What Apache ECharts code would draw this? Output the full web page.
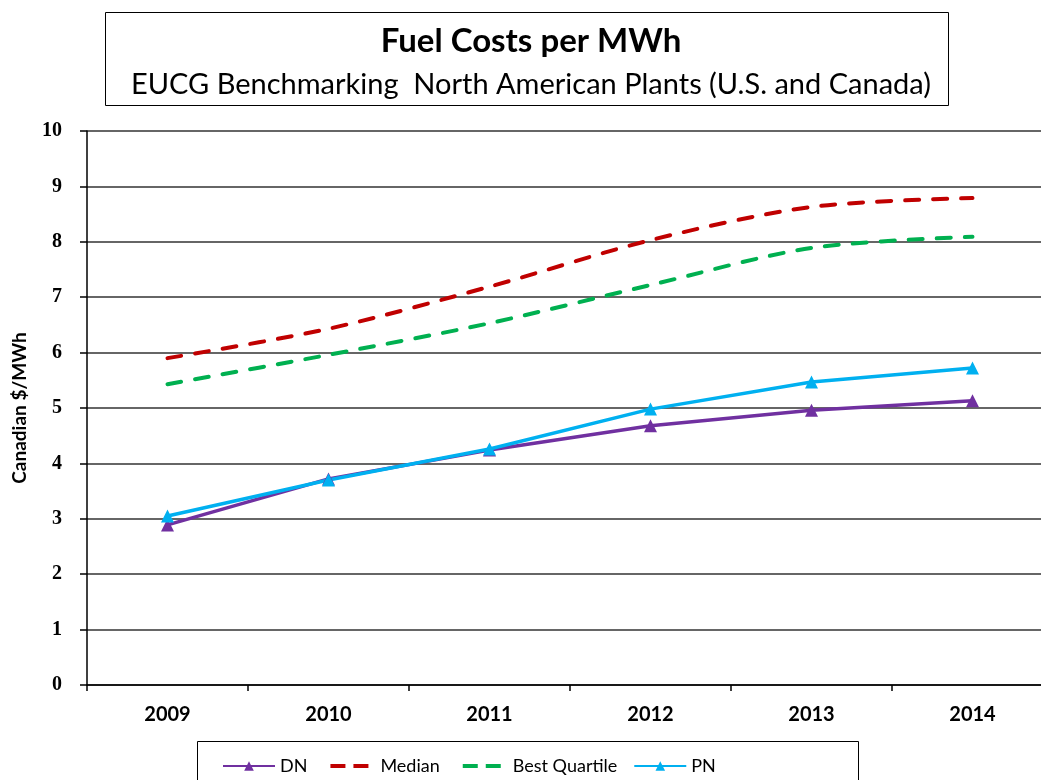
<!DOCTYPE html>
<html>
<head>
<meta charset="utf-8">
<title>Fuel Costs per MWh</title>
<script src="https://cdn.jsdelivr.net/npm/echarts@6/dist/echarts.min.js"></script>
<style>
  html, body { margin: 0; padding: 0; background: #fff; }
  #main { width: 1041px; height: 780px; }
</style>
</head>
<body>
<div id="main"></div>
<script>
// data
var years = ['2009', '2010', '2011', '2012', '2013', '2014'];
var dn = [2.89, 3.72, 4.24, 4.68, 4.96, 5.13];
var median = [5.9, 6.43, 7.19, 8.03, 8.63, 8.79];
var bestQuartile = [5.43, 5.96, 6.53, 7.22, 7.89, 8.09];
var pn = [3.05, 3.70, 4.26, 4.98, 5.47, 5.72];

// two short dashes for the legend of the dashed series
// (the two tiny corner squares just stretch the box to 52x12)
var dashIcon = 'path://M0,0h0.01v0.01h-0.01Z M51.99,11.99h0.01v0.01h-0.01Z M7,4h15v4h-15Z M30,4h15v4h-15Z';

var chart = echarts.init(document.getElementById('main'));

var option = {
  animation: false,
  backgroundColor: '#fff',
  title: {
    text: 'Fuel Costs per MWh',
    subtext: 'EUCG Benchmarking  North American Plants (U.S. and Canada)',
    left: 526,
    top: 20,
    textAlign: 'center',
    itemGap: 12,
    textStyle: { fontFamily: 'Lato', fontWeight: 'bold', fontSize: 33, color: '#000' },
    subtextStyle: { fontFamily: 'Lato', fontSize: 29, color: '#000' }
  },
  graphic: [
    { type: 'rect', shape: { x: 105.5, y: 12.5, width: 843, height: 93 },
      style: { fill: 'none', stroke: '#000', lineWidth: 1 } },
    { type: 'rect', shape: { x: 197.5, y: 741.5, width: 661, height: 50 },
      style: { fill: 'none', stroke: '#000', lineWidth: 1 } }
  ],
  legend: {
    top: 752,
    left: 217,
    itemWidth: 52,
    itemHeight: 12,
    itemGap: 16,
    textStyle: { fontFamily: 'Lato', fontSize: 18, color: '#000' },
    data: [
      'DN',
      { name: 'Median', icon: dashIcon },
      { name: 'Best Quartile', icon: dashIcon },
      'PN'
    ]
  },
  grid: { left: 87, top: 131, width: 966, height: 554, outerBoundsMode: 'none' },
  xAxis: {
    type: 'category',
    data: years,
    boundaryGap: true,
    axisLine: { lineStyle: { color: '#000', width: 1.5 } },
    axisTick: { show: true, length: 6, lineStyle: { color: '#000', width: 1.5 } },
    axisLabel: { margin: 20, fontFamily: 'Lato', fontWeight: 'bold', fontSize: 20, color: '#000' }
  },
  yAxis: {
    type: 'value',
    min: 0,
    max: 10,
    interval: 1,
    name: 'Canadian $/MWh',
    nameLocation: 'middle',
    nameGap: 58,
    nameTextStyle: { fontFamily: 'Lato', fontWeight: 'bold', fontSize: 19, color: '#000' },
    axisLine: { show: true, lineStyle: { color: '#000', width: 1.5 } },
    axisTick: { show: true, length: 7, lineStyle: { color: '#000', width: 1.5 } },
    axisLabel: { margin: 25, fontFamily: 'Liberation Serif', fontWeight: 'bold', fontSize: 20, color: '#000' },
    splitLine: { lineStyle: { color: '#333', width: 1.5 } }
  },
  series: [
    {
      name: 'DN', type: 'line', data: dn,
      symbol: 'triangle', symbolSize: 13,
      itemStyle: { color: '#7030A0' },
      lineStyle: { color: '#7030A0', width: 3.5 }
    },
    {
      name: 'Median', type: 'line', data: median,
      smooth: 0.3, symbol: 'none',
      itemStyle: { color: '#C00000' },
      lineStyle: { color: '#C00000', width: 4, type: [14, 14], cap: 'round' }
    },
    {
      name: 'Best Quartile', type: 'line', data: bestQuartile,
      smooth: 0.3, symbol: 'none',
      itemStyle: { color: '#00B050' },
      lineStyle: { color: '#00B050', width: 4, type: [14, 14], cap: 'round' }
    },
    {
      name: 'PN', type: 'line', data: pn,
      symbol: 'triangle', symbolSize: 13,
      itemStyle: { color: '#00B0F0' },
      lineStyle: { color: '#00B0F0', width: 3.5 }
    }
  ]
};

chart.setOption(option);
</script>
</body>
</html>
